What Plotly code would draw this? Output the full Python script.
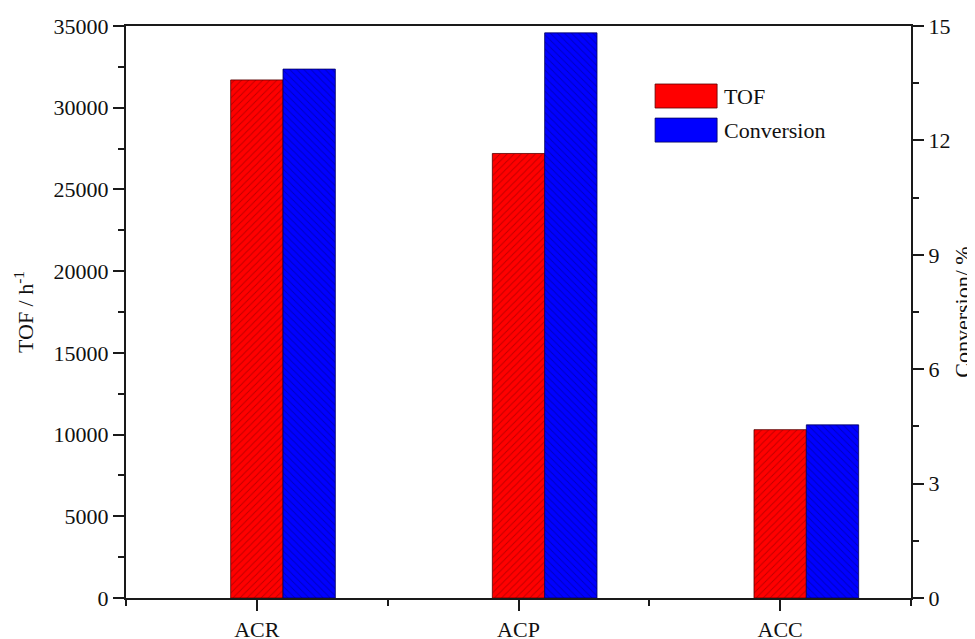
import plotly.graph_objects as go

categories = ["ACR", "ACP", "ACC"]
tof_values = [31700, 27200, 10300]
conversion_values = [13.87, 14.82, 4.54]

y_left_ticks = [0, 5000, 10000, 15000, 20000, 25000, 30000, 35000]
y_right_ticks = [0, 3, 6, 9, 12, 15]

xpos = list(range(len(categories)))

FONT = "Liberation Serif"
AX = "#1a1a1a"
FS = 22

fig = go.Figure()
fig.add_trace(go.Bar(
    x=xpos, y=tof_values, name="TOF",
    offset=-0.1, width=0.2,
    marker=dict(color="#ff0000",
                line=dict(color="#5a0000", width=0.8),
                pattern=dict(shape="/", fgcolor="#7a0000", bgcolor="#ff0000",
                             size=5, solidity=0.18)),
    yaxis="y", showlegend=False,
))
fig.add_trace(go.Bar(
    x=xpos, y=conversion_values, name="Conversion",
    offset=0.1, width=0.2,
    marker=dict(color="#0000ff",
                line=dict(color="#00005a", width=0.8),
                pattern=dict(shape="\\", fgcolor="#00007a", bgcolor="#0000ff",
                             size=5, solidity=0.18)),
    yaxis="y2", showlegend=False,
))

tickfont = dict(family=FONT, size=FS, color="#111")

fig.update_layout(
    width=967, height=631,
    margin=dict(l=118, r=64, t=18, b=41, autoexpand=False),
    paper_bgcolor="white", plot_bgcolor="white",
    font=dict(family=FONT, size=FS, color="#111"),
    xaxis=dict(
        range=[-0.5, 2.5], tickmode="array", tickvals=xpos, ticktext=categories,
        showline=True, linecolor=AX, linewidth=2, mirror=True,
        ticks="outside", ticklen=11, tickwidth=2, tickcolor=AX,
        minor=dict(tickmode="array", tickvals=[-0.5, 0.5, 1.5, 2.5],
                   ticks="outside", ticklen=6, tickwidth=2, tickcolor=AX),
        showgrid=False, zeroline=False, tickfont=tickfont, automargin=False,
    ),
    yaxis=dict(
        range=[0, 35000], tickmode="array", tickvals=y_left_ticks,
        ticktext=[str(v) for v in y_left_ticks],
        showline=True, linecolor=AX, linewidth=2,
        ticks="outside", ticklen=11, tickwidth=2, tickcolor=AX,
        minor=dict(dtick=2500, tick0=0, ticks="outside", ticklen=6, tickwidth=2, tickcolor=AX),
        showgrid=False, zeroline=False, tickfont=tickfont, automargin=False,
        title=dict(text="TOF / h<sup>-1</sup>", font=dict(family=FONT, size=FS, color="#111"), standoff=14),
    ),
    yaxis2=dict(
        range=[0, 15], tickmode="array", tickvals=y_right_ticks,
        overlaying="y", side="right",
        showline=True, linecolor=AX, linewidth=2,
        ticks="outside", ticklen=11, tickwidth=2, tickcolor=AX,
        minor=dict(dtick=1.5, tick0=0, ticks="outside", ticklen=6, tickwidth=2, tickcolor=AX),
        showgrid=False, zeroline=False, tickfont=tickfont, automargin=False,
        title=dict(text="Conversion/ %", font=dict(family=FONT, size=FS, color="#111"), standoff=14),
    ),
    shapes=[
        dict(type="rect", xref="paper", yref="paper", x0=0.674, x1=0.753, y0=0.8566, y1=0.8986,
             fillcolor="#ff0000", line=dict(color="#5a0000", width=0.8)),
        dict(type="rect", xref="paper", yref="paper", x0=0.674, x1=0.753, y0=0.797, y1=0.839,
             fillcolor="#0000ff", line=dict(color="#00005a", width=0.8)),
    ],
    annotations=[
        dict(text="TOF", xref="paper", yref="paper", x=0.759, y=0.8776, xanchor="left",
             yanchor="middle", showarrow=False, font=dict(family=FONT, size=FS, color="#111")),
        dict(text="Conversion", xref="paper", yref="paper", x=0.759, y=0.818, xanchor="left",
             yanchor="middle", showarrow=False, font=dict(family=FONT, size=FS, color="#111")),
    ],
)

fig.write_html("out.html")
